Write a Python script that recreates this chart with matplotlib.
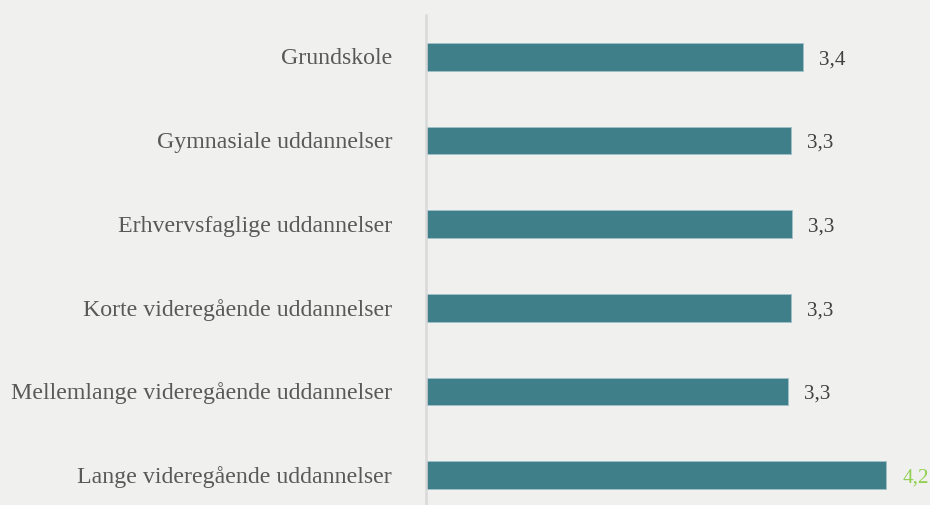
import matplotlib
matplotlib.use("Agg")
import matplotlib.pyplot as plt
import matplotlib.transforms as mtransforms

# Education levels and their average scores
categories = [
    "Grundskole",
    "Gymnasiale uddannelser",
    "Erhvervsfaglige uddannelser",
    "Korte videregående uddannelser",
    "Mellemlange videregående uddannelser",
    "Lange videregående uddannelser",
]
values = [3.44, 3.33, 3.34, 3.33, 3.30, 4.20]
label_colors = ["#404040", "#404040", "#404040", "#404040", "#404040", "#92d050"]

BG = "#f0f0ef"
BAR = "#3f7f8a"

plt.rcParams["font.family"] = ["Liberation Serif", "DejaVu Serif"]

fig = plt.figure(figsize=(9.3, 5.06), dpi=100, facecolor=BG)
ax = fig.add_axes([425.5 / 930, -12 / 506, 505 / 930, 502 / 506])
ax.set_facecolor(BG)

y = list(range(len(categories)))
ax.barh(y, values, height=0.33, color=BAR, edgecolor="#9fc0c6", linewidth=0.7)

ax.set_ylim(len(categories) - 0.5, -0.5)
ax.set_xlim(0, 505 / 109.7)

ax.set_yticks(y)
ax.set_yticklabels(categories, fontsize=17.2, color="#595959")
ax.tick_params(axis="y", length=0, pad=24)
ax.set_xticks([])

# nudge category labels up slightly
shift_up = mtransforms.ScaledTranslation(0, 1.5 / 100, fig.dpi_scale_trans)
for lbl in ax.get_yticklabels():
    lbl.set_transform(lbl.get_transform() + shift_up)

for s in ["top", "right", "bottom"]:
    ax.spines[s].set_visible(False)
ax.spines["left"].set_color("#d9d9d9")
ax.spines["left"].set_linewidth(1.8)

# value labels, one decimal with comma separator
for yi, v, c in zip(y, values, label_colors):
    ax.annotate(f"{v:.1f}".replace(".", ","), xy=(v, yi), xytext=(16, -2),
                textcoords="offset pixels", va="center", ha="left",
                fontsize=15.2, color=c)

fig.savefig("out.png", dpi=100, facecolor=BG)
